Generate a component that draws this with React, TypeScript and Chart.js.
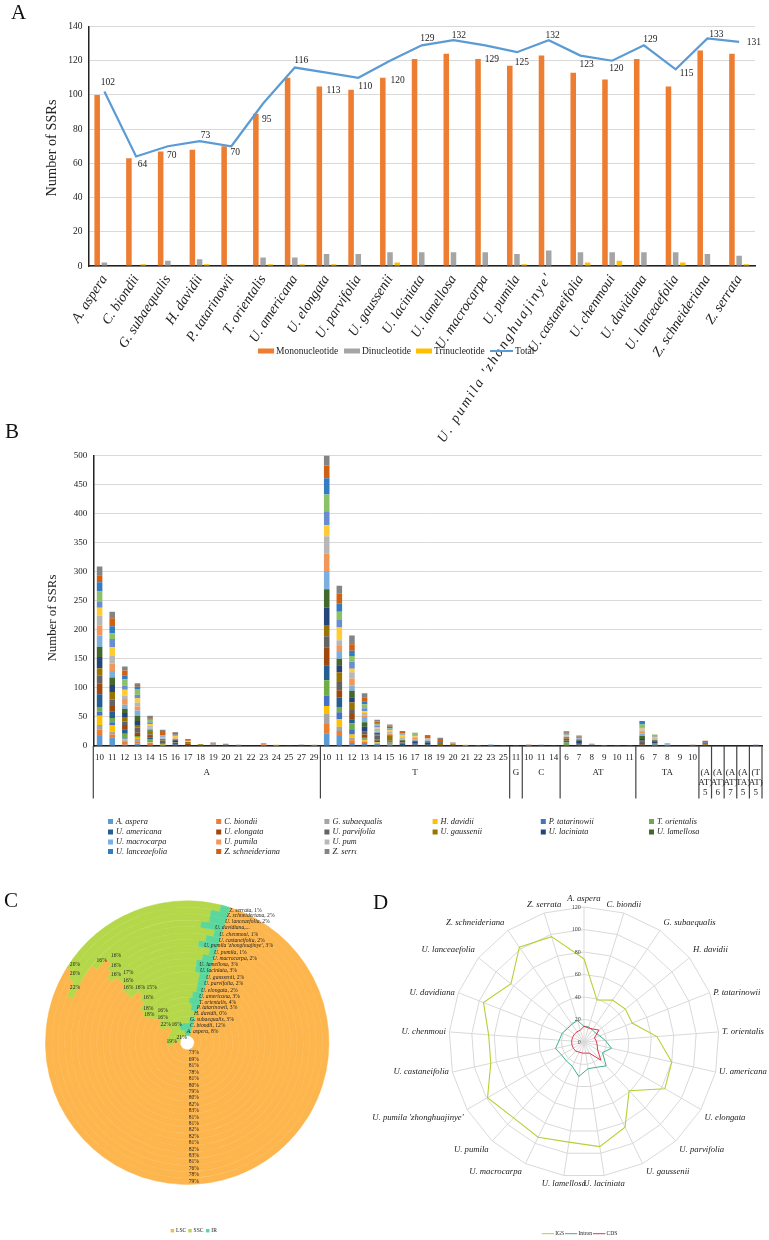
import React, { useEffect, useRef } from "react";
import { Chart, registerables } from "chart.js";

Chart.register(...registerables);

const SERIF = '"Liberation Serif", "Times New Roman", serif';
const INK = "#222222";
const GRID = "#d9d9d9";

const species = [
  "A. aspera", "C. biondii", "G. subaequalis", "H. davidii", "P. tatarinowii", "T. orientalis",
  "U. americana", "U. elongata", "U. parvifolia", "U. gaussenii", "U. laciniata", "U. lamellosa",
  "U. macrocarpa", "U. pumila", "U. pumila 'zhonghuajinye'", "U. castaneifolia", "U. chenmoui",
  "U. davidiana", "U. lanceaefolia", "Z. schneideriana", "Z. serrata",
];

// Panel A
const mononucleotide = [100, 63, 67, 68, 70, 89, 110, 105, 103, 110, 121, 124, 121, 117, 123, 113, 109, 121, 105, 126, 124];
const dinucleotide = [2, 0, 3, 4, 0, 5, 5, 7, 7, 8, 8, 8, 8, 7, 9, 8, 8, 8, 8, 7, 6];
const trinucleotide = [0, 1, 0, 1, 0, 1, 1, 1, 0, 2, 0, 0, 0, 1, 0, 2, 3, 0, 2, 0, 1];
const totals = [102, 64, 70, 73, 70, 95, 116, 113, 110, 120, 129, 132, 129, 125, 132, 123, 120, 129, 115, 133, 131];
const totalLabelShift = [
  [3.5, -8.7], [6.5, 7.7], [4, 9.7], [6, -6], [4, 6], [3.7, 16.4], [6.5, -7.3], [7, 18], [7, 9], [7.7, 19.5], [5.7, -6.4],
  [5.4, -5], [6.7, 14.6], [5, 10.4], [4, -4.3], [6.3, 9.3], [4.2, 8.2], [6.5, -5.7], [11, 4.4], [9, -3.9], [14.8, 1],
];

// Panel B: one row per repeat length, one value per species
const tickLabelsB = [
  "10", "11", "12", "13", "14", "15", "16", "17", "18", "19", "20", "21", "22", "23", "24", "25", "27", "29",
  "10", "11", "12", "13", "14", "15", "16", "17", "18", "19", "20", "21", "22", "23", "25",
  "11", "10", "11", "14", "6", "7", "8", "9", "10", "11", "6", "7", "8", "9", "10", "", "", "", "", "",
];
const groupNames = [["A"], ["T"], ["G"], ["C"], ["AT"], ["TA"], ["(A", "AT)", "5"], ["(A", "AT)", "6"], ["(A", "AT)", "7"], ["(A", "TA)", "5"], ["(T", "AT)", "5"]];
const groupSizes = [18, 15, 1, 3, 6, 5, 1, 1, 1, 1, 1];
const rowsA = [
  [17, 11.5, 7.5, 16, 7, 8, 22, 18, 14, 13, 19, 18, 19, 17, 17, 14, 10, 18, 16, 12, 15],
  [15, 5, 5, 11, 5, 7, 12, 9, 11, 13, 12, 13, 11, 13, 13, 15, 14, 10, 12, 14, 11],
  [2, 6, 2, 2, 1, 8, 8, 7, 6, 8, 7, 7, 7, 10, 6, 10, 7, 11, 6, 9, 7],
  [4, 3, 5, 2, 1, 2, 2, 4, 9, 3, 8, 9, 9, 7, 7, 7, 6, 10, 4, 3, 3],
  [1, 4, 1, 1, 1, 4, 2, 3, 3, 4, 1, 2, 3, 2, 3, 3, 3, 4, 2, 3, 2],
  [0, 1, 0, 1, 0, 2, 1, 0, 4, 1, 1, 1, 1, 1, 2, 0, 1, 1, 0, 8, 2],
  [1, 0, 0, 0, 1, 0, 3, 0, 1, 1, 3, 1, 1, 1, 2, 2, 0, 2, 1, 3, 1],
  [0, 0, 0, 0, 0, 0, 1, 3, 0, 3, 0, 0, 0, 0, 0, 1, 0, 0, 0, 2, 2],
  [0, 0, 0, 0, 0, 0, 0, 0, 1, 2, 0, 0, 0, 0, 0, 0, 0, 0, 0, 0, 0],
  [0, 0, 0, 0, 0, 0, 0, 0, 0, 0, 2, 0, 0, 1, 1, 0, 0, 0, 0, 1, 1],
  [0, 0, 0, 0, 0, 0, 1, 0, 1, 0, 0, 0, 0, 0, 0, 0, 0, 0, 0, 0, 2],
  [0, 0, 0, 0, 0, 0, 0, 0, 1, 0, 0, 0, 0, 0, 0, 0, 0, 0, 0, 0, 1],
  [0, 0, 0, 0, 0, 0, 0, 0, 0, 0, 0, 0, 0, 0, 0, 0, 0, 0, 0, 0, 0],
  [0, 0, 0, 0, 0, 0, 0, 1, 0, 0, 0, 0, 0, 4, 0, 0, 0, 0, 0, 0, 0],
  [0, 0, 0, 2, 0, 0, 0, 0, 0, 0, 0, 0, 0, 0, 0, 0, 0, 0, 0, 0, 0],
  [0, 0, 0, 0, 0, 0, 0, 0, 0, 0, 0, 1.5, 0, 0, 0, 0, 0, 0, 0, 0, 0],
  [0, 0, 0, 0, 0, 0, 0, 0, 0, 0, 0, 2, 0, 0, 0, 0, 0, 0, 0, 0, 0],
  [0, 0, 0, 0, 0, 0, 0, 0, 0, 0, 0, 0, 0, 0, 0, 0, 0, 2, 0, 0, 0],
];
const rowsT = [
  [22, 16, 17, 14, 18, 26, 26, 31, 19, 18, 31, 32, 31, 30, 30, 19, 24, 29, 28, 22, 17],
  [17, 9, 7, 13, 12, 9, 16, 13, 14, 17, 12, 11, 12, 10, 10, 22, 13, 14, 14, 17, 14],
  [5, 5, 4, 6, 9, 10, 7, 9, 7, 13, 9, 11, 9, 12, 11, 6, 12, 10, 9, 11, 15],
  [5, 2, 1, 2, 1, 2, 1, 6, 4, 2, 7, 8, 9, 3, 4, 3, 5, 7, 5, 7, 7],
  [4, 0, 1, 1, 0, 1, 2, 2, 6, 1, 2, 3, 1, 1, 5, 2, 3, 2, 2, 3, 3],
  [1, 0, 3, 0, 1, 1, 1, 1, 1, 8, 1, 0, 1, 2, 3, 3, 2, 1, 3, 2, 2],
  [0, 0, 1, 0, 0, 0, 3, 1, 0, 1, 1, 3, 1, 1, 3, 4, 1, 1, 1, 2, 2],
  [0, 0, 0, 0, 0, 0, 2, 0, 2, 0, 4, 1, 2, 3, 2, 1, 1, 3, 1, 0, 1],
  [1, 0, 0, 0, 0, 0, 1, 0, 0, 0, 4, 2, 2, 1, 2, 0, 0, 0, 0, 4, 2],
  [0, 0, 0, 0, 0, 0, 0, 0, 1, 3, 2, 2, 0, 0, 0, 0, 0, 0, 0, 4, 2],
  [0, 0, 0, 0, 0, 0, 0, 2, 0, 2, 0, 0, 0, 1, 0, 0, 0, 0, 0, 0, 1],
  [0, 0, 0, 0, 0, 0, 0, 0, 0, 0, 0, 0, 0, 0, 0, 2, 0, 0, 0, 0, 0],
  [0, 0, 0, 1.5, 0, 0, 0, 0, 0, 0, 0, 0, 0, 0, 0, 0, 0, 0, 0, 0, 0],
  [0, 0, 0, 0, 0, 0.5, 1, 0, 0, 0, 0, 0, 1, 0, 0, 0, 0, 0, 0, 0, 0],
  [0, 0, 0, 0, 0, 0, 0, 0, 0, 0, 0, 0, 0, 0, 0, 0, 0, 0, 0, 0, 0.5],
];
const rowsG = [[0, 0, 0, 0, 0, 0, 0, 0, 0, 0, 0, 0, 0, 0, 0, 0, 0, 0, 0, 0, 0.5]];
const rowsC = [
  [0, 0, 0, 0, 0, 1, 0, 0, 0, 0, 0, 0, 0, 1, 1, 0, 0, 0, 0, 0, 0],
  [0, 0, 0, 0, 0, 0, 0, 0, 1.5, 0, 0, 0, 0, 0, 0, 0, 0, 0, 0, 0, 0.5],
  [0, 0, 0, 0, 0, 0, 0, 0, 0.5, 0, 0, 0, 0, 0, 0, 0, 0, 0, 0, 0, 0],
];
const rowsAT = [
  [0, 0, 0, 0, 1, 5, 1, 2, 3, 1, 1, 1, 0, 1, 1, 2, 1, 1, 2, 2, 1],
  [0, 0, 1, 0, 0, 0, 1, 0, 3, 0, 4, 2, 0, 0, 2, 0, 0, 0, 1, 2, 2],
  [0, 0, 0, 0, 0, 0, 0, 0, 0, 0, 2, 0, 0, 0, 1, 0, 0, 0, 0, 1, 0],
  [0, 0, 0, 0, 0, 0, 0, 0, 0, 0, 0, 0, 0, 0, 0, 1.5, 0, 0, 0, 0, 0],
  [0, 0, 0, 0, 0, 0, 0, 0, 0, 0, 0, 0, 0, 0, 0, 0, 0, 0, 0, 0, 1.5],
  [0, 0, 0, 0, 0, 0, 0, 0, 0, 0, 0, 0, 0, 0, 0, 0, 0, 0, 0, 0, 0.5],
];
const rowsTA = [
  [0, 0, 0, 0, 0, 0, 2, 3, 2, 2, 3, 5, 4, 3, 3, 3, 2, 5, 6, 0, 0],
  [0, 0, 1, 0, 0, 1, 1, 0, 1, 1, 3, 2, 1, 2, 2, 1, 1, 3, 0, 0, 0],
  [0, 0, 0, 0, 0, 0, 0, 0, 0, 0, 0, 1, 2, 0, 1, 0, 0, 1, 0, 0, 0],
  [0, 0, 0, 0, 0, 0, 0, 0, 0, 0, 0, 0, 0, 0, 0, 0, 0, 0, 0, 0, 0],
  [0, 0, 0, 0, 0, 0, 0, 1, 0, 0, 0, 0, 0, 0, 0, 0, 0, 0, 0, 1, 0],
];
const rowsTri = [
  [0, 0, 0, 0, 0, 0, 0, 2, 0, 3, 1, 0, 1, 0, 0, 0, 0, 0, 0, 2, 0],
  [0, 0, 0, 1, 0, 0, 0, 0, 0, 0, 0, 0, 0, 0, 0, 0, 0, 0, 0, 0, 0],
  [0, 0, 0, 0, 0, 0, 0, 0, 0, 0, 0, 0, 0, 0, 0, 0, 0, 0, 0, 0, 0],
  [0, 0, 0, 0, 0, 0, 0, 0, 0, 0, 0, 0, 0, 0, 0, 0, 0, 0, 0, 0, 0],
  [0, 0, 0, 0, 2, 0, 0, 0, 0, 0, 0, 0, 0, 0, 0, 0, 0, 0, 0, 0, 0],
];
const palette = [
  "#5B9BD5", "#ED7D31", "#A5A5A5", "#FFC000", "#4472C4", "#70AD47", "#255E91", "#9E480E", "#636363", "#997300", "#264478",
  "#43682B", "#7CAFDD", "#F1975A", "#B7B7B7", "#FFCD33", "#698ED0", "#8CC168", "#327DC2", "#D26012", "#848484",
];

// Panel C
const lscShare = [73, 69, 81, 78, 81, 80, 79, 80, 82, 83, 81, 81, 82, 82, 81, 82, 83, 81, 76, 78, 79];
const sscShare = [19, 21, 16, 22, 16, 16, 18, 18, 16, 15, 16, 16, 16, 17, 16, 16, 16, 16, 22, 20, 20];
const irShare = [8, 12, 3, 0, 3, 4, 3, 2, 2, 2, 3, 3, 2, 1, 3, 2, 1, 3, 2, 2, 1];
const sscLabelSpots = [
  [171.7, 1041.3], [181.7, 1037.3], [176.7, 1024.3], [165.7, 1025], [162.7, 1017.3], [162.7, 1011], [149.3, 1015],
  [148.3, 1008.3], [148.3, 997.7], [151.7, 987.3], [140, 987.3], [128.3, 987.3], [128.3, 980.7], [128.3, 972.7],
  [116, 975], [116, 966], [116, 956], [101.7, 961], [75, 987.7], [75, 973.7], [75, 965],
];
const irLabelSpots = [
  [186.7, 1032], [190, 1025.7], [190, 1020], [194, 1014], [196.7, 1007.3], [199, 1002.3], [199, 996.3], [201, 990.3],
  [204, 984], [206, 977.3], [200, 970.7], [199.3, 964.3], [212.7, 959], [214, 953], [204, 946], [218.7, 941], [219.3, 934.7],
  [215, 928], [225, 922], [226.7, 916], [229.3, 910.7],
];

// Panel D
const igsCount = [74, 39, 45, 47, 46, 65, 80, 83, 59, 84, 94, 90, 94, 92, 99, 85, 85, 96, 83, 102, 98];
const intronCount = [14, 14, 13, 13, 15, 19, 25, 19, 29, 25, 24, 31, 24, 23, 23, 26, 22, 21, 19, 19, 20];
const cdsCount = [14, 13, 14, 17, 10, 11, 12, 14, 22, 11, 10, 10, 10, 11, 11, 11, 11, 11, 11, 11, 11];

const put = (ctx: CanvasRenderingContext2D, text: string, x: number, y: number, font: string, color = INK, align: CanvasTextAlign = "left") => {
  ctx.font = font;
  ctx.fillStyle = color;
  ctx.textAlign = align;
  ctx.textBaseline = "middle";
  ctx.fillText(text, x, y);
};
const serif = (size: number, italic = false) => `${italic ? "italic " : ""}${size}px ${SERIF}`;

const upright = (ctx: CanvasRenderingContext2D, text: string, x: number, y: number, font: string) => {
  ctx.save();
  ctx.translate(x, y);
  ctx.rotate(-Math.PI / 2);
  put(ctx, text, 0, 0, font, INK, "center");
  ctx.restore();
};

const LONG_LABEL = 14;

const panelAOverlay = {
  id: "panelAOverlay",
  afterDraw(chart: any) {
    const { ctx, scales, chartArea } = chart;
    const meta = chart.getDatasetMeta(3);
    ctx.save();
    meta.data.forEach((pt: any, i: number) => {
      const [dx, dy] = totalLabelShift[i];
      put(ctx, String(totals[i]), pt.x + dx, pt.y + dy, serif(9.5), INK, "center");
    });
    upright(ctx, "Number of SSRs", 52, 148, serif(14.3));

    ctx.save();
    ctx.translate(scales.x.getPixelForValue(LONG_LABEL) + 1, chartArea.bottom + 8);
    ctx.rotate((-57 * Math.PI) / 180);
    (ctx as any).letterSpacing = "2.1px";
    put(ctx, species[LONG_LABEL], 0, 0, serif(14, true), INK, "right");
    (ctx as any).letterSpacing = "0px";
    ctx.restore();

    const y = 351;
    const swatch = (x: number, c: string) => { ctx.fillStyle = c; ctx.fillRect(x, y - 2.5, 16, 5); };
    swatch(258, "#ED7D31"); put(ctx, "Mononucleotide", 276, y, serif(9.5));
    swatch(344, "#A5A5A5"); put(ctx, "Dinucleotide", 362, y, serif(9.5));
    swatch(416, "#FFC000"); put(ctx, "Trinucleotide", 434, y, serif(9.5));
    ctx.strokeStyle = "#5B9BD5"; ctx.lineWidth = 2;
    ctx.beginPath(); ctx.moveTo(490, y); ctx.lineTo(513, y); ctx.stroke();
    put(ctx, "Total", 515, y, serif(9.5));
    ctx.restore();
  },
};

const panelBOverlay = {
  id: "panelBOverlay",
  afterDraw(chart: any) {
    const { ctx, scales, chartArea } = chart;
    const x = scales.x;
    const step = x.getPixelForValue(1) - x.getPixelForValue(0);
    const base = chartArea.bottom;
    ctx.save();
    let start = 0;
    const edge = (i: number) => x.getPixelForValue(i) - step / 2;
    ctx.lineWidth = 1.2;
    groupSizes.forEach((n, g) => {
      const left = edge(start);
      const right = edge(start + n);
      ctx.strokeStyle = "#444444";
      ctx.beginPath(); ctx.moveTo(left, base); ctx.lineTo(left, base + 52.5); ctx.stroke();
      if (g === groupSizes.length - 1) { ctx.beginPath(); ctx.moveTo(right, base); ctx.lineTo(right, base + 52.5); ctx.stroke(); }
      groupNames[g].forEach((line, k) => put(ctx, line, (left + right) / 2, base + 26.5 + k * 10, serif(9), INK, "center"));
      start += n;
    });
    upright(ctx, "Number of SSRs", 52.3, 178, serif(12.8));
    const rowY = [381.5, 392, 402, 411.5];
    const shown = [[0, 1, 2, 3, 4, 5], [6, 7, 8, 9, 10, 11], [12, 13, 14], [18, 19, 20]];
    shown.forEach((row, r) => row.forEach((s, c) => {
      const lx = 108 + c * 108.2;
      ctx.save();
      if (c === 2 && r >= 2) { ctx.beginPath(); ctx.rect(lx, rowY[r] - 8, 32, 16); ctx.clip(); }
      ctx.fillStyle = palette[s];
      ctx.fillRect(lx, rowY[r] - 2.5, 5, 5);
      put(ctx, species[s], lx + 8, rowY[r], serif(8.3, true));
      ctx.restore();
    }));
    ctx.restore();
  },
};

const panelCOverlay = {
  id: "panelCOverlay",
  afterDraw(chart: any) {
    const { ctx } = chart;
    const left = chart.canvas.offsetLeft;
    const top = chart.canvas.offsetTop;
    const count = species.length;
    ctx.save();
    species.forEach((name, i) => {
      const arc = chart.getDatasetMeta(count - 1 - i).data[0];
      const r = (arc.innerRadius + arc.outerRadius) / 2;
      put(ctx, `${lscShare[i]}%`, arc.x + 6.6, arc.y + r, serif(5.6), INK, "center");
      const [sx, sy] = sscLabelSpots[i];
      put(ctx, `${sscShare[i]}%`, sx - left, sy - top, serif(5.6), INK, "center");
      const [ix, iy] = irLabelSpots[i];
      const shortName = name === "U. davidiana";
      const italic = shortName ? name + ",..." : name;
      put(ctx, italic, ix - left, iy - top, serif(5.6, true));
      if (!shortName) {
        const w = ctx.measureText(italic).width;
        put(ctx, `, ${irShare[i]}%`, ix - left + w, iy - top, serif(5.6));
      }
    });
    const y = 1230.7 - top;
    [["LSC", 170.7, "#FDB64E"], ["SSC", 188.3, "#B5D84A"], ["IR", 206, "#5BD69D"]].forEach(([t, x, c]: any) => {
      ctx.fillStyle = c;
      ctx.fillRect(x - left, y - 1.7, 3.4, 3.4);
      put(ctx, t, x - left + 5.3, y, serif(5.6));
    });
    ctx.restore();
  },
};

const panelDOverlay = {
  id: "panelDOverlay",
  afterDraw(chart: any) {
    const { ctx } = chart;
    const r = chart.scales.r;
    ctx.save();
    r.ticks.forEach((t: any) => {
      const p = r.getPointPositionForValue(0, t.value);
      put(ctx, String(t.value), p.x - 3.2, p.y, serif(6), "#444444", "right");
    });
    species.forEach((name, i) => {
      const a = (i * 2 * Math.PI) / species.length;
      const p = r.getPointPositionForValue(i, 120);
      const s = Math.sin(a);
      const c = Math.cos(a);
      const align: CanvasTextAlign = Math.abs(s) < 0.32 ? "center" : s > 0 ? "left" : "right";
      const x = p.x + (align === "center" ? 0 : s > 0 ? 3.5 : -3.5);
      const y = p.y + (c > 0.4 ? -8 : c < -0.4 ? 8.5 : 0);
      put(ctx, name, x, y, serif(8.7, true), INK, align);
    });
    const y = 1233.7 - chart.canvas.offsetTop;
    const x0 = chart.canvas.offsetLeft;
    [["IGS", 541.7, "#B2D235"], ["Intron", 565, "#3BB08F"], ["CDS", 593, "#E0344B"]].forEach(([t, x, col]: any) => {
      ctx.strokeStyle = col;
      ctx.lineWidth = 1;
      ctx.beginPath(); ctx.moveTo(x - x0, y); ctx.lineTo(x - x0 + 12.3, y); ctx.stroke();
      put(ctx, t, x - x0 + 13.5, y, serif(5.6));
    });
    ctx.restore();
  },
};

const basePlugins = { legend: { display: false }, tooltip: { enabled: false }, title: { display: false } };

export default function App() {
  const aRef = useRef<HTMLCanvasElement>(null);
  const bRef = useRef<HTMLCanvasElement>(null);
  const cRef = useRef<HTMLCanvasElement>(null);
  const dRef = useRef<HTMLCanvasElement>(null);

  useEffect(() => {
    const chartA = new Chart(aRef.current as HTMLCanvasElement, {
      type: "bar",
      data: {
        labels: species,
        datasets: [
          { label: "Mononucleotide", data: mononucleotide, backgroundColor: "#ED7D31", order: 2 },
          { label: "Dinucleotide", data: dinucleotide, backgroundColor: "#A5A5A5", order: 2 },
          { label: "Trinucleotide", data: trinucleotide, backgroundColor: "#FFC000", order: 2 },
          { label: "Total", type: "line", data: totals, borderColor: "#5B9BD5", borderWidth: 2.2, pointRadius: 0, tension: 0, order: 1 },
        ] as any,
      },
      options: {
        responsive: false,
        animation: false,
        layout: { padding: { top: 26.5, right: 14, left: 0, bottom: 0 } },
        datasets: { bar: { categoryPercentage: 0.68, barPercentage: 0.77 } },
        plugins: basePlugins,
        scales: {
          x: {
            afterFit: (s: any) => { s.height = 204; },
            grid: { display: false, drawTicks: false },
            border: { color: "#222222", width: 1.5 },
            ticks: {
              autoSkip: false, minRotation: 57, maxRotation: 57, padding: 6, color: INK,
              font: { family: SERIF, size: 14, style: "italic" },
              callback: (_v: any, i: number) => (i === LONG_LABEL ? "" : species[i]),
            },
          },
          y: {
            min: 0,
            max: 140,
            afterFit: (s: any) => { s.width = 88.5; },
            grid: { color: GRID, lineWidth: 1, drawTicks: false },
            border: { color: "#222222", width: 1.5 },
            ticks: { stepSize: 20, padding: 6, color: INK, font: { family: SERIF, size: 9.5 } },
          },
        },
      } as any,
      plugins: [panelAOverlay],
    });

    const stackRows = [...rowsA, ...rowsT, ...rowsG, ...rowsC, ...rowsAT, ...rowsTA, ...rowsTri];
    const chartB = new Chart(bRef.current as HTMLCanvasElement, {
      type: "bar",
      data: {
        labels: tickLabelsB,
        datasets: species.map((s, i) => ({ label: s, data: stackRows.map((r) => r[i]), backgroundColor: palette[i], stack: "all" })),
      },
      options: {
        responsive: false,
        animation: false,
        layout: { padding: { top: 15.5, right: 7, left: 0, bottom: 0 } },
        datasets: { bar: { categoryPercentage: 1, barPercentage: 0.44 } },
        plugins: basePlugins,
        scales: {
          x: {
            stacked: true,
            afterFit: (s: any) => { s.height = 134; },
            grid: { display: false, drawTicks: false },
            border: { color: "#222222", width: 1.5 },
            ticks: { autoSkip: false, minRotation: 0, maxRotation: 0, padding: 6, color: INK, font: { family: SERIF, size: 9 } },
          },
          y: {
            stacked: true,
            min: 0,
            max: 500,
            afterFit: (s: any) => { s.width = 93.3; },
            grid: { color: GRID, lineWidth: 1, drawTicks: false },
            border: { color: "#222222", width: 1.5 },
            ticks: { stepSize: 50, padding: 6, color: INK, font: { family: SERIF, size: 9 } },
          },
        },
      } as any,
      plugins: [panelBOverlay],
    });

    const ringFill = ["#FDB64E", "#B5D84A", "#5BD69D"];
    const chartC = new Chart(cRef.current as HTMLCanvasElement, {
      type: "doughnut",
      data: {
        labels: ["LSC", "SSC", "IR"],
        datasets: species
          .map((s, i) => ({
            label: s,
            data: [lscShare[i], sscShare[i], irShare[i]],
            backgroundColor: ringFill,
            borderColor: ringFill,
            borderWidth: 0.5,
          }))
          .reverse(),
      },
      options: {
        responsive: false,
        animation: false,
        rotation: 17.5,
        cutout: "5%",
        layout: { padding: { left: 44.7, right: 43.3, top: 20.7, bottom: 55.3 } },
        plugins: basePlugins,
      } as any,
      plugins: [panelCOverlay],
    });

    const chartD = new Chart(dRef.current as HTMLCanvasElement, {
      type: "radar",
      data: {
        labels: species,
        datasets: [
          { label: "CDS", data: cdsCount, borderColor: "#E0344B", borderWidth: 1, pointRadius: 0, fill: false, tension: 0 },
          { label: "Intron", data: intronCount, borderColor: "#3BB08F", borderWidth: 1, pointRadius: 0, fill: false, tension: 0 },
          { label: "IGS", data: igsCount, borderColor: "#B2D235", borderWidth: 1.1, pointRadius: 0, fill: false, tension: 0 },
        ],
      },
      options: {
        responsive: false,
        animation: false,
        layout: { padding: { left: 29, right: 0, top: 26.7, bottom: 62.1 } },
        plugins: basePlugins,
        scales: {
          r: {
            min: 0,
            max: 120,
            grid: { color: GRID, lineWidth: 1, circular: false },
            angleLines: { color: GRID, lineWidth: 1 },
            pointLabels: { display: false },
            ticks: { display: false, stepSize: 20 },
          },
        },
      } as any,
      plugins: [panelDOverlay],
    });

    return () => {
      chartA.destroy();
      chartB.destroy();
      chartC.destroy();
      chartD.destroy();
    };
  }, []);

  const canvasStyle = (left: number, top: number): React.CSSProperties => ({ position: "absolute", left, top, display: "block" });
  const letter = (left: number, top: number): React.CSSProperties => ({
    position: "absolute", left, top, fontFamily: SERIF, fontSize: 21, lineHeight: "21px", color: "#111",
  });

  return (
    <div style={{ position: "absolute", left: 0, top: 0, width: 769, height: 1240, overflow: "hidden", background: "#fff" }}>
      <canvas ref={aRef} width={769} height={470} style={canvasStyle(0, 0)} />
      <canvas ref={bRef} width={769} height={440} style={canvasStyle(0, 440)} />
      <canvas ref={cRef} width={373} height={360} style={canvasStyle(0, 880)} />
      <canvas ref={dRef} width={399} height={360} style={canvasStyle(370, 880)} />
      <div style={letter(11, 2)}>A</div>
      <div style={letter(5, 421)}>B</div>
      <div style={letter(4, 890)}>C</div>
      <div style={letter(373, 892)}>D</div>
    </div>
  );
}
